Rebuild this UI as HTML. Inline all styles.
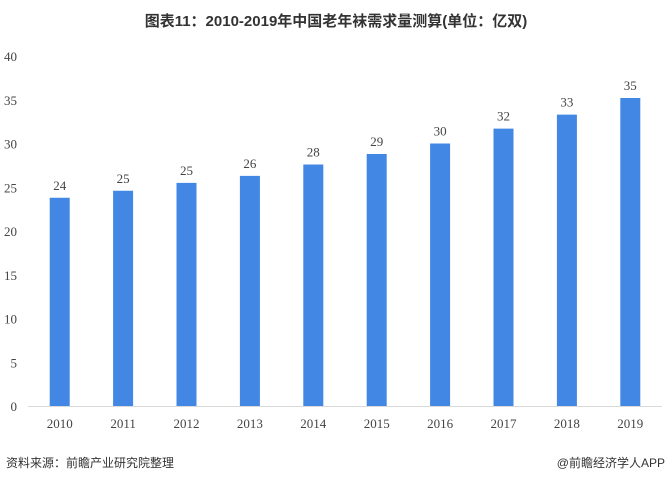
<!DOCTYPE html>
<html><head><meta charset="utf-8"><style>
body{margin:0;width:670px;height:481px;background:#fff;overflow:hidden;font-family:"Liberation Sans","Noto Sans CJK SC",sans-serif}
svg{position:absolute;left:0;top:0}
</style></head><body>
<svg id="c" width="670" height="481">
<text x="336" y="26" text-anchor="middle" font-size="15" font-weight="bold" fill="#333" font-family="Liberation Sans, Noto Sans CJK SC, sans-serif">图表11：2010-2019年中国老年袜需求量测算(单位：亿双)</text>
<text x="6" y="467" font-size="12" fill="#333" font-family="Liberation Sans, Noto Sans CJK SC, sans-serif">资料来源：前瞻产业研究院整理</text>
<text x="665" y="467" text-anchor="end" font-size="12" fill="#333" font-family="Liberation Sans, Noto Sans CJK SC, sans-serif">@前瞻经济学人APP</text>
</svg>
<script>
const categories=["2010","2011","2012","2013","2014","2015","2016","2017","2018","2019"];
const values=[23.8,24.6,25.5,26.3,27.6,28.8,30.0,31.7,33.3,35.2];
const valueLabels=["24","25","25","26","28","29","30","32","33","35"];
const yTicks=[0,5,10,15,20,25,30,35,40];
const svg=document.getElementById('c');
const NS='http://www.w3.org/2000/svg';
const x0=28,x1=662,y0=406,yTop=56,yMax=40;
const band=(x1-x0)/categories.length;
const xC=i=>x0+band*(i+0.5);
const yS=v=>y0-(v/yMax)*(y0-yTop);
function mk(t,a){const e=document.createElementNS(NS,t);for(const k in a)e.setAttribute(k,a[k]);svg.appendChild(e);return e;}
yTicks.forEach(v=>{
 const t=mk('text',{x:17,y:yS(v)+5,'text-anchor':'end','font-size':13,fill:'#444','font-family':'Liberation Serif, serif'});
 t.textContent=v;
 
 
});
const ax=mk('line',{x1:x0,x2:x1,y1:y0+0.5,y2:y0+0.5,stroke:'#d9d9d9','stroke-width':1});


categories.forEach((c,i)=>{
 const w=20,cx=xC(i);
 const r=mk('rect',{x:cx-w/2,y:yS(values[i]),width:w,height:y0-yS(values[i]),fill:'#4287e3'});
 
 
 const l=mk('text',{x:cx,y:yS(values[i])-8,'text-anchor':'middle','font-size':13,fill:'#444','font-family':'Liberation Serif, serif'});
 l.textContent=valueLabels[i];
 
 
 const xl=mk('text',{x:cx,y:428,'text-anchor':'middle','font-size':13,fill:'#444','font-family':'Liberation Serif, serif'});
 xl.textContent=c;
 
 
});
</script>
</body></html>
